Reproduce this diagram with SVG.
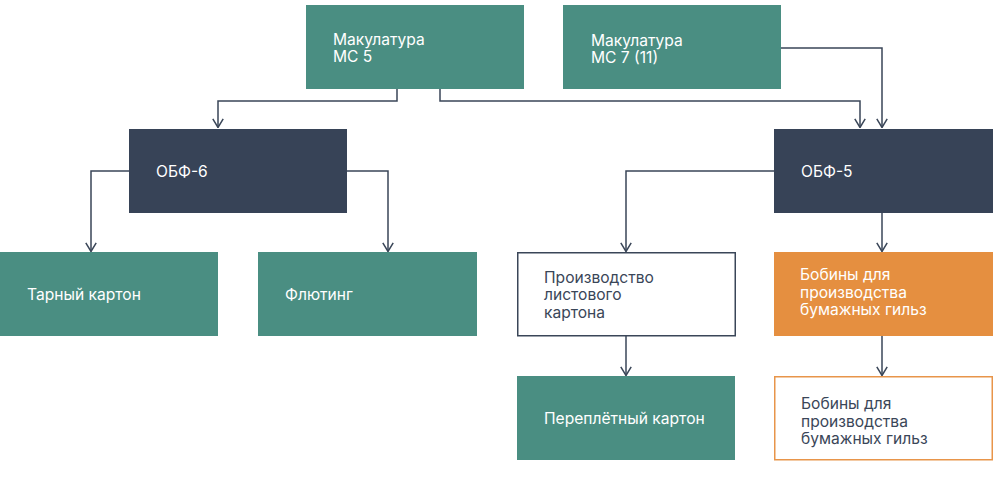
<svg xmlns="http://www.w3.org/2000/svg" width="993" height="498" viewBox="0 0 993 498">
<defs>
<marker id="arr" viewBox="0 0 10 12" refX="9.2" refY="6" markerWidth="10" markerHeight="12" markerUnits="userSpaceOnUse" orient="auto">
<path d="M0.5,0.8 L9.2,6 L0.5,11.2" fill="none" stroke="#3a4658" stroke-width="1.5"/>
</marker>
<style>
.teal{fill:#4a8e82}
.navy{fill:#374357}
.orange{fill:#e58f40}
.outline{fill:#ffffff;stroke:#3a4658;stroke-width:1.5}
.outline-o{fill:#ffffff;stroke:#e8954a;stroke-width:1.5}
text{font-family:Inter,"Noto Sans","Liberation Sans",sans-serif;font-size:15.6px}
.w{fill:#ffffff}
.d{fill:#3a4658}
.c{fill:none;stroke:#3a4658;stroke-width:1.5;marker-end:url(#arr)}
</style>
</defs>
<g id="connectors">
<path class="c" d="M397,89 V101 H218 V127.5"/>
<path class="c" d="M440,89 V101 H860 V127.5"/>
<path class="c" d="M781,48 H882 V127.5"/>
<path class="c" d="M129,171 H91 V251.5"/>
<path class="c" d="M347,171 H388 V251.5"/>
<path class="c" d="M774,171 H626 V251.5"/>
<path class="c" d="M882,212 V251.5"/>
<path class="c" d="M626,336 V375.5"/>
<path class="c" d="M882,336 V375.5"/>
</g>
<g id="mc5">
<rect class="teal" x="306" y="5" width="218" height="84"/>
<text class="w" x="333" y="44.5">Макулатура</text>
<text class="w" x="333" y="62">МС 5</text>
</g>
<g id="mc7">
<rect class="teal" x="563" y="5" width="218" height="84"/>
<text class="w" x="591" y="45.5">Макулатура</text>
<text class="w" x="591" y="63">МС 7 (11)</text>
</g>
<g id="obf6">
<rect class="navy" x="129" y="129" width="218" height="84"/>
<text class="w" x="156" y="176.5">ОБФ-6</text>
</g>
<g id="obf5">
<rect class="navy" x="774" y="129" width="219" height="84"/>
<text class="w" x="801" y="176.5">ОБФ-5</text>
</g>
<g id="tarny">
<rect class="teal" x="0" y="252" width="218" height="84"/>
<text class="w" x="27" y="300">Тарный картон</text>
</g>
<g id="fluting">
<rect class="teal" x="258" y="252" width="219" height="84"/>
<text class="w" x="285" y="300">Флютинг</text>
</g>
<g id="proizvodstvo">
<rect class="outline" x="517.75" y="252.75" width="217.5" height="83"/>
<text class="d" x="544" y="282.5">Производство</text>
<text class="d" x="544" y="300">листового</text>
<text class="d" x="544" y="317.5">картона</text>
</g>
<g id="bobiny1">
<rect class="orange" x="774" y="252" width="219" height="84"/>
<text class="w" x="800" y="280">Бобины для</text>
<text class="w" x="800" y="297.5">производства</text>
<text class="w" x="800" y="315">бумажных гильз</text>
</g>
<g id="pereplet">
<rect class="teal" x="517" y="376" width="218" height="84"/>
<text class="w" x="544" y="424">Переплётный картон</text>
</g>
<g id="bobiny2">
<rect class="outline-o" x="774.75" y="376.75" width="217.5" height="83"/>
<text class="d" x="801" y="409">Бобины для</text>
<text class="d" x="801" y="426.5">производства</text>
<text class="d" x="801" y="444">бумажных гильз</text>
</g>
</svg>
